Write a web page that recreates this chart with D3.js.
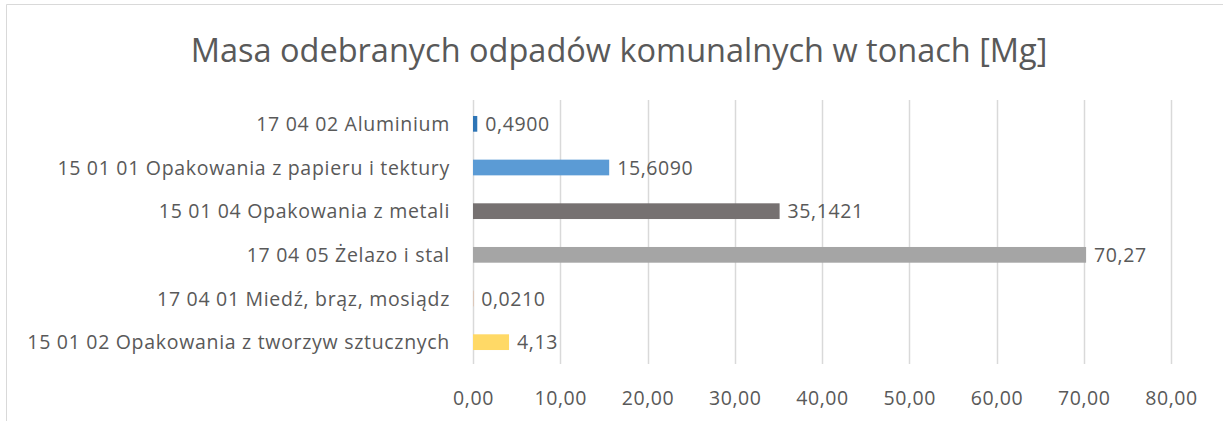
<!DOCTYPE html>
<html>
<head>
<meta charset="utf-8">
<script src="https://cdn.jsdelivr.net/npm/d3@7"></script>
<style>
  body { margin: 0; background: #fff; }
  svg text { font-family: "Open Sans", "Noto Sans", sans-serif; fill: #595959; }
</style>
</head>
<body>
<div id="chart-area"></div>
<script>
// dane (od gory do dolu)
var categories = [
	"17 04 02 Aluminium",
	"15 01 01 Opakowania z papieru i tektury",
	"15 01 04 Opakowania z metali",
	"17 04 05 Żelazo i stal",
	"17 04 01 Miedź, brąz, mosiądz",
	"15 01 02 Opakowania z tworzyw sztucznych"
];
var values = [0.49, 15.609, 35.1421, 70.27, 0.021, 4.13];
var valueLabels = ["0,4900", "15,6090", "35,1421", "70,27", "0,0210", "4,13"];
var colors = ["#2E75B6", "#5B9BD5", "#767171", "#A5A5A5", "#ED7D31", "#FFD966"];
var ticks = [0, 10, 20, 30, 40, 50, 60, 70, 80];

var width = 1223, height = 421;
var plotLeft = 473, plotRight = 1171, plotTop = 102, plotBottom = 364;

var svg = d3.select("#chart-area")
			.append("svg")
			.attr("width", width)
			.attr("height", height);

// ramka
svg.append("path")
	.attr("d", "M6.5," + height + " V4.5 H" + width)
	.attr("fill", "none")
	.attr("stroke", "#d9d9d9")
	.attr("stroke-width", 1);

svg.append("text")
	.attr("x", 619)
	.attr("y", 62)
	.attr("text-anchor", "middle")
	.style("font-size", "32.5px")
	.text("Masa odebranych odpadów komunalnych w tonach [Mg]");

var x = d3.scaleLinear().domain([0, 80]).range([plotLeft, plotRight]);
var y = d3.scaleBand().domain(categories).range([plotTop, plotBottom]).paddingInner(0.64).paddingOuter(0.32);

// siatka
svg.selectAll("line.grid")
	.data(ticks)
	.enter()
	.append("line")
	.attr("class", "grid")
	.attr("x1", function(d){ return Math.round(x(d)) + 0.5; })
	.attr("x2", function(d){ return Math.round(x(d)) + 0.5; })
	.attr("y1", plotTop - 2)
	.attr("y2", plotBottom)
	.attr("stroke", "#d9d9d9")
	.attr("stroke-width", 1.5);

var xAxis = d3.axisBottom(x)
	.tickValues(ticks)
	.tickSize(0)
	.tickPadding(0)
	.tickFormat(function(d){ return d3.format(".2f")(d).replace(".", ","); });

var gx = svg.append("g")
	.attr("transform", "translate(0," + (plotBottom + 27) + ")")
	.call(xAxis);
gx.select(".domain").remove();
gx.selectAll("text")
	.style("font-size", "19.5px")
	.style("letter-spacing", "0.6px")
	.attr("fill", "#595959");

// slupki
svg.selectAll("rect.bar")
	.data(values)
	.enter()
	.append("rect")
	.attr("class", "bar")
	.attr("x", x(0))
	.attr("y", function(d, i){ return y(categories[i]); })
	.attr("width", function(d){ return x(d) - x(0); })
	.attr("height", y.bandwidth())
	.attr("fill", function(d, i){ return colors[i]; });

// etykiety wartosci
svg.selectAll("text.val")
	.data(values)
	.enter()
	.append("text")
	.attr("class", "val")
	.attr("x", function(d){ return x(d) + 8; })
	.attr("y", function(d, i){ return y(categories[i]) + y.bandwidth() / 2; })
	.attr("dy", "0.36em")
	.style("font-size", "19.5px")
	.style("letter-spacing", "0.6px")
	.text(function(d, i){ return valueLabels[i]; });

// etykiety kategorii
svg.selectAll("text.cat")
	.data(categories)
	.enter()
	.append("text")
	.attr("class", "cat")
	.attr("x", 450)
	.attr("y", function(d){ return y(d) + y.bandwidth() / 2; })
	.attr("dy", "0.36em")
	.attr("text-anchor", "end")
	.style("font-size", "19.5px")
	.style("letter-spacing", "0.7px")
	.text(function(d){ return d; });
</script>
</body>
</html>
